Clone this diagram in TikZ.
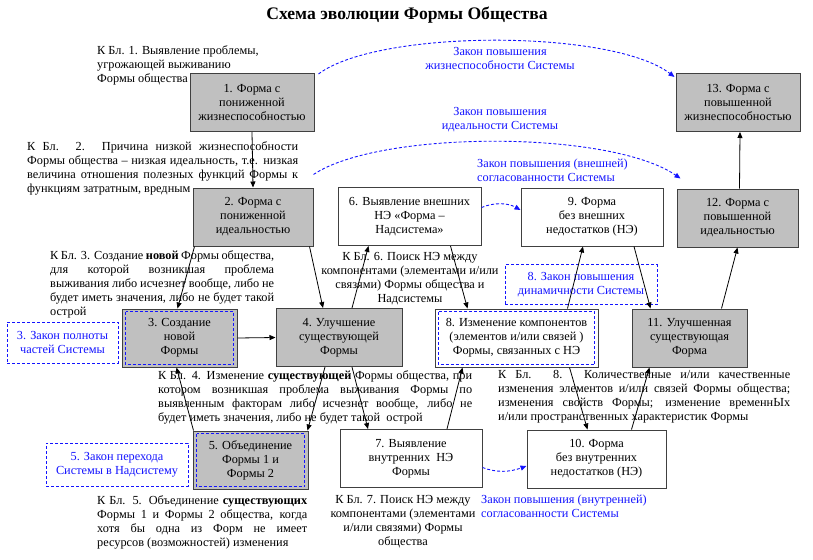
\documentclass[tikz,border=0pt]{standalone}
\usepackage{fontspec}
\setmainfont{Liberation Serif}
\usetikzlibrary{positioning,arrows.meta}
\definecolor{boxgrey}{RGB}{192,192,192}
\definecolor{lawblue}{RGB}{20,20,255}
\newcommand{\fs}{\fontsize{12.3}{14}\selectfont}
\tikzset{
  blok/.style={draw=black!75, line width=1pt, minimum width=#1, minimum height=58,
    align=center, inner sep=0pt, font=\fs},
  grey/.style={fill=boxgrey},
  lawline/.style={draw=lawblue, line width=0.9pt, dash pattern=on 3pt off 2pt},
  lawbox/.style={lawline, minimum width=#1, align=center, inner sep=0pt, text=lawblue, font=\fs},
  lawtext/.style={text=lawblue, font=\fs, inner sep=0pt},
  note/.style={font=\fs, inner sep=0pt, anchor=north west, text width=#1, align=justify},
  arr/.style={line width=0.8pt, -{Triangle[length=6pt,width=5pt]}},
  lawarr/.style={lawline, -{Triangle[length=6pt,width=5pt,fill=lawblue]}}
}

\begin{document}
\begin{tikzpicture}[x=1pt,y=-1pt]
\useasboundingbox (0,0) rectangle (813,559);

\node[font=\fontsize{17.6}{20}\selectfont\bfseries] (title) at (407,15) {Схема эволюции Формы Общества};

% blocks
\node[blok=124,grey] (b1) at (252,102.5) {1. Форма с\\пониженной\\жизнеспособностью};
\node[blok=120,grey] (b2) at (253,217) {2. Форма с\\пониженной\\идеальностью};
\node[blok=115,grey] (b3) at (179.5,338) {3. Создание\\новой\\Формы};
\node[blok=126,grey] (b4) at (339,337.5) {4. Улучшение\\существующей\\Формы};
\node[blok=115,grey] (b5) at (250.5,460) {5. Объединение\\Формы 1 и\\Формы 2};
\node[blok=143] (b6) at (409.5,216.5) {6. Выявление внешних\\НЭ «Форма –\\Надсистема»};
\node[blok=142] (b7) at (411,458.5) {7. Выявление\\внутренних~ НЭ\\Формы};
\node[blok=163] (b8) at (516.5,338) {8. Изменение компонентов\\(элементов и/или связей )\\Формы, связанных с НЭ};
\node[blok=142] (b9) at (592,217) {9. Форма\\без внешних\\недостатков (НЭ)};
\node[blok=139] (b10) at (596.5,459) {10. Форма\\без внутренних\\недостатков (НЭ)};
\node[blok=115,grey] (b11) at (689.5,338) {11. Улучшенная\\существующая\\Форма};
\node[blok=121,grey] (b12) at (737.5,218) {12. Форма с\\повышенной\\идеальностью};
\node[blok=124,grey] (b13) at (738,102.5) {13. Форма с\\повышенной\\жизнеспособностью};

% inner dashed frames
\foreach \b in {b3,b5,b8}
  \draw[lawline] ([shift={(4pt,-3pt)}]\b.north west) rectangle ([shift={(-4pt,3pt)}]\b.south east);

% law boxes
\node[lawbox=111, minimum height=41] (law3) at (62.5,342.5) {3. Закон полноты\\частей Системы};
\node[lawbox=142, minimum height=43] (law5) at (117,464.5) {5. Закон перехода\\Системы в Надсистему};
\node[lawbox=152, minimum height=40] (law8) at (581,284.5) {8. Закон повышения\\динамичности Системы};

% law labels
\node[lawtext, align=center, anchor=north] (lawA) at (500,47) {Закон повышения\\жизнеспособности Системы};
\node[lawtext, align=center, anchor=north] (lawB) at (500,107) {Закон повышения\\идеальности Системы};
\node[lawtext, align=left, anchor=north west] (lawC) at (477,159) {Закон повышения (внешней)\\согласованности Системы};
\node[lawtext, align=left, anchor=north west] (lawD) at (481,495) {Закон повышения (внутренней)\\согласованности Системы};

% notes
\node[font=\fs, inner sep=0pt, anchor=north west, align=left] (k1) at (97,45)
  {К Бл. 1. Выявление проблемы,\\угрожающей выживанию\\Формы общества};
\node[note=271] (k2) at (27,141) {К Бл. 2. Причина низкой жизнеспособности\linebreak
  Формы общества – низкая идеальность, т.е. низкая\linebreak
  величина отношения полезных функций Формы к\linebreak
  функциям затратным, вредным};
\node[note=224] (k3) at (50,250) {К Бл. 3. Создание \textbf{новой} Формы общества,\linebreak
  для которой возникшая проблема\linebreak
  выживания либо исчезнет вообще, либо не\linebreak
  будет иметь значения, либо не будет такой\linebreak
  острой};
\node[font=\fs, inner sep=0pt, anchor=north, align=center] (k6) at (410,252)
  {К Бл. 6. Поиск НЭ между\\компонентами (элементами и/или\\связями) Формы общества и\\Надсистемы};
\node[note=314] (k4) at (158,370) {К Бл. 4. Изменение \textbf{существующей} Формы общества, при\linebreak
  котором возникшая проблема выживания Формы по\linebreak
  выявленным факторам либо исчезнет вообще, либо не\linebreak
  будет иметь значения, либо не будет такой~ острой};
\node[note=292] (k8) at (498,370) {К Бл. 8. Количественные и/или качественные\linebreak
  изменения элементов и/или связей Формы общества;\linebreak
  изменения свойств Формы; изменение временнЫх\linebreak
  и/или пространственных характеристик Формы};
\node[note=210] (k5) at (97,495) {К Бл. 5. Объединение \textbf{существующих}\linebreak
  Формы 1 и Формы 2 общества, когда\linebreak
  хотя бы одна из Форм не имеет\linebreak
  ресурсов (возможностей) изменения};
\node[font=\fs, inner sep=0pt, anchor=north, align=center] (k7) at (403,495)
  {К Бл. 7. Поиск НЭ между\\компонентами (элементами\\и/или связями) Формы\\общества};

% connectors
\draw[arr] (b1.south) -- (b2.north);
\draw[arr] ([xshift=2pt]b2.south west) -- ([xshift=-2pt]b3.north);
\draw[arr] ([xshift=-4pt]b2.south east) -- ([xshift=-16pt]b4.north);
\draw[arr] (b3.east) -- (b4.west);
\draw[arr] ([xshift=13pt]b4.north) -- ([xshift=-41pt]b6.south);
\draw[arr] ([xshift=41pt]b6.south) -- ([xshift=-49pt]b8.north);
\draw[arr] ([xshift=51pt]b8.north) -- ([xshift=-9pt]b9.south);
\draw[arr] ([xshift=42pt]b9.south) -- ([xshift=-39pt]b11.north);
\draw[arr] ([xshift=32pt]b11.north) -- (b12.south);
\draw[arr] ([xshift=2pt]b12.north) -- ([xshift=2pt]b13.south);
\draw[arr] ([xshift=1pt]b5.north west) -- ([xshift=-3pt]b3.south);
\draw[arr] ([xshift=-14pt]b4.south) -- ([xshift=-1pt]b5.north east);
\draw[arr] ([xshift=13pt]b4.south) -- ([xshift=-43pt]b7.north);
\draw[arr] ([xshift=36pt]b7.north) -- ([xshift=-54pt]b8.south);
\draw[arr] ([xshift=53pt]b8.south) -- ([xshift=-9pt]b10.north);
\draw[arr] ([xshift=35pt]b10.north) -- ([xshift=-40pt]b11.south);

% law arrows
\draw[lawarr] ([xshift=4pt,yshift=-1pt]b1.north east) .. controls (378,29) and (612,29) .. ([xshift=-1pt,yshift=-4pt]b13.north west);
\draw[lawarr] ([yshift=13pt]b2.north east) .. controls (380,130) and (610,130) .. ([xshift=4pt,yshift=10pt]b12.north west);
\draw[lawarr] ([yshift=9pt]b6.east) .. controls (495,202) and (508,203) .. ([yshift=7pt]b9.west);
\draw[lawarr] ([yshift=-9pt]b7.east) .. controls (497,473) and (510,472) .. ([yshift=-7pt]b10.west);
\end{tikzpicture}
\end{document}
